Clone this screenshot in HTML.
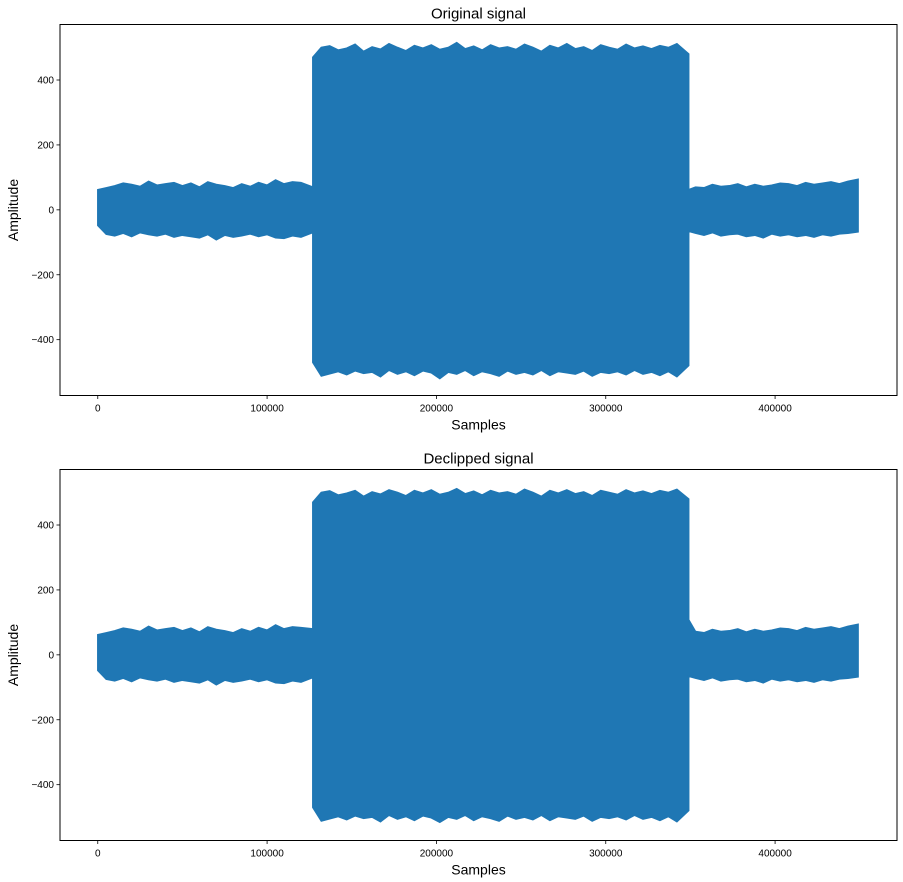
<!DOCTYPE html>
<html><head><meta charset="utf-8"><style>
body{margin:0;background:#fff;}
svg{display:block;font-family:"Liberation Sans","DejaVu Sans",sans-serif;}
</style></head><body>
<svg id="chart" width="903" height="882" viewBox="0 0 903 882"></svg>
<script>
// ---- data (envelope of the waveform, amplitude) ----
const quiet1X = [0,5000,10000,15000,20000,25000,30000,35000,40000,45000,50000,55000,60000,65000,70000,75000,80000,85000,90000,95000,100000,105000,110000,115000,120000,127000];
const loudX = [127000,132000,137000,142000,147000,152000,157000,162000,167000,172000,177000,182000,187000,192000,197000,202000,207000,212000,217000,222000,227000,232000,237000,242000,247000,252000,257000,262000,267000,272000,277000,282000,287000,292000,297000,302000,307000,312000,317000,322000,327000,332000,337000,342000,349000];
const quiet2X = [349000,353000,358000,363000,368000,373000,378000,383000,388000,393000,398000,403000,408000,413000,418000,423000,428000,433000,438000,443000,449000];

const origUpper = [62,68,74,82,78,72,88,76,80,84,74,82,70,86,78,74,68,80,72,84,76,92,80,86,84,70,
  470,500,505,492,498,510,488,502,495,512,500,490,506,498,508,494,500,515,496,504,492,508,498,502,494,510,500,488,506,498,512,496,502,490,508,500,494,510,498,504,496,506,500,512,480,
  62,70,68,78,72,74,80,70,78,72,76,82,80,74,84,78,82,86,80,88,94];
const origLower = [-48,-75,-80,-72,-82,-70,-76,-80,-74,-84,-78,-82,-86,-76,-92,-78,-84,-80,-74,-82,-76,-86,-88,-80,-84,-70,
  -470,-512,-505,-498,-508,-496,-504,-500,-514,-494,-506,-498,-510,-496,-502,-520,-500,-506,-494,-510,-498,-504,-512,-496,-506,-500,-508,-494,-510,-498,-502,-506,-496,-512,-500,-504,-498,-508,-494,-506,-500,-510,-498,-514,-480,
  -66,-72,-78,-70,-80,-76,-74,-82,-78,-86,-74,-80,-76,-82,-78,-84,-76,-80,-74,-72,-68];
const declUpper = [62,68,74,82,78,72,88,76,80,84,74,82,70,86,78,74,68,80,72,84,76,92,80,86,84,80,
  470,500,505,492,498,506,488,502,495,508,500,490,506,498,508,494,500,512,496,504,492,506,498,502,494,510,500,488,506,498,508,496,502,490,506,500,494,508,498,504,496,506,500,510,480,
  108,72,68,78,72,74,80,70,78,72,76,82,80,74,84,78,82,86,80,88,94];
const declLower = [-48,-75,-80,-72,-82,-70,-76,-80,-74,-84,-78,-82,-86,-76,-92,-78,-84,-80,-74,-82,-76,-86,-88,-80,-84,-70,
  -470,-512,-505,-498,-508,-496,-504,-500,-514,-494,-506,-498,-510,-496,-502,-516,-500,-506,-494,-510,-498,-504,-512,-496,-506,-500,-508,-494,-510,-498,-502,-506,-496,-512,-500,-504,-498,-508,-494,-506,-500,-510,-498,-514,-480,
  -66,-72,-78,-70,-80,-76,-74,-82,-78,-86,-74,-80,-76,-82,-78,-84,-76,-80,-74,-72,-68];

const xTicks = [0,100000,200000,300000,400000];
const yTicks = [-400,-200,0,200,400];

const NS = "http://www.w3.org/2000/svg";
const svg = document.getElementById("chart");
function mk(tag, attrs, parent){const e=document.createElementNS(NS,tag);for(const k in attrs)e.setAttribute(k,attrs[k]);(parent||svg).appendChild(e);return e;}

function drawPanel(top, title, upper, lower, key){
  const L=60,R=897,T=top,B=top+371;
  const xMin=-22300,xMax=472000,yMin=-572,yMax=571;
  const sx=v=>L+(v-xMin)/(xMax-xMin)*(R-L);
  const sy=v=>B-(v-yMin)/(yMax-yMin)*(B-T);
  const g=mk("g",{});
  
  
  const xs=quiet1X.concat(loudX,quiet2X);
  let pts=[];
  for(let i=0;i<xs.length;i++) pts.push(sx(xs[i]).toFixed(1)+","+sy(upper[i]).toFixed(1));
  for(let i=xs.length-1;i>=0;i--) pts.push(sx(xs[i]).toFixed(1)+","+sy(lower[i]).toFixed(1));
  const poly=mk("polygon",{points:pts.join(" "),fill:"#1f77b4",stroke:"#1f77b4","stroke-width":"1.5","stroke-linejoin":"miter"},g);
  
  
  const frame=mk("rect",{x:L,y:T,width:R-L,height:B-T,fill:"none",stroke:"#000","stroke-width":"1"},g);
  
  
  xTicks.forEach(v=>{
    const x=sx(v);
    mk("line",{x1:x,x2:x,y1:B,y2:B+3.5,stroke:"#000","stroke-width":"0.8"},g);
    const t=mk("text",{x:x,y:B+16,"font-size":"10","text-anchor":"middle",fill:"#000"},g);
    t.textContent=String(v);
    
    
  });
  yTicks.forEach(v=>{
    const y=sy(v);
    mk("line",{x1:L,x2:L-3.5,y1:y,y2:y,stroke:"#000","stroke-width":"0.8"},g);
    const t=mk("text",{x:L-6,y:y+3.5,"font-size":"10","text-anchor":"end",fill:"#000"},g);
    t.textContent=(v<0?"\u2212"+(-v):String(v));
    
    
  });
  const tt=mk("text",{x:(L+R)/2,y:T-6,"font-size":"15","text-anchor":"middle",fill:"#000"},g);
  tt.textContent=title;
  
  
  const xl=mk("text",{x:(L+R)/2,y:B+34,"font-size":"14","text-anchor":"middle",fill:"#000"},g);
  xl.textContent="Samples";
  
  
  const yc=(T+B)/2;
  const yl=mk("text",{x:18,y:yc,"font-size":"14","text-anchor":"middle",fill:"#000",transform:"rotate(-90 18 "+yc+")"},g);
  yl.textContent="Amplitude";
  
  
}
drawPanel(24.5,"Original signal",origUpper,origLower,"original");
drawPanel(469.5,"Declipped signal",declUpper,declLower,"declipped");
</script>
</body></html>
